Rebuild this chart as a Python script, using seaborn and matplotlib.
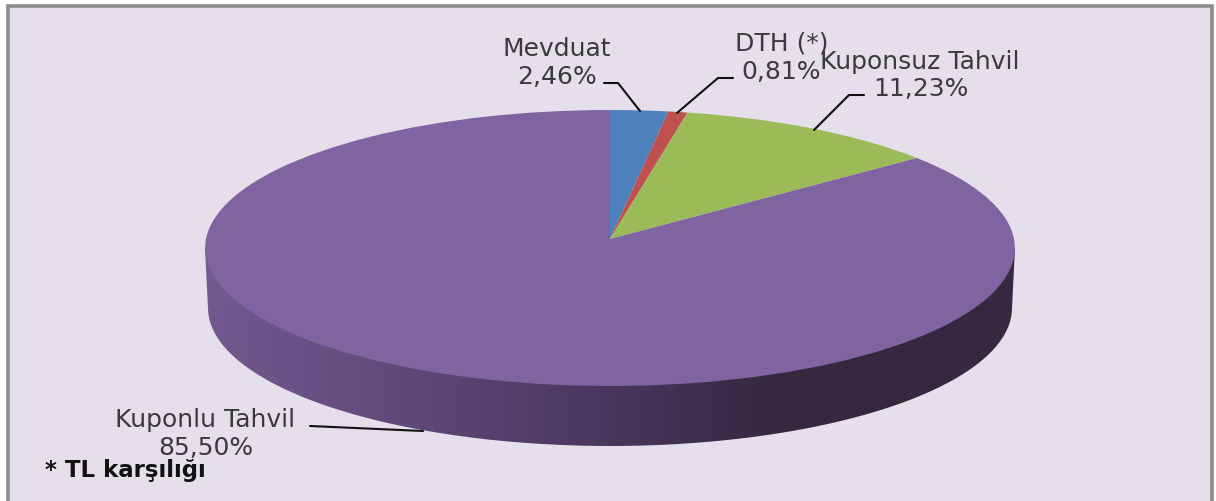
import numpy as np
import matplotlib
matplotlib.use("Agg")
import matplotlib.pyplot as plt
import seaborn as sns
from matplotlib.colors import LinearSegmentedColormap
from matplotlib.patches import PathPatch, Rectangle
from matplotlib.path import Path
from matplotlib.transforms import Transform

# data
labels = ["Mevduat", "DTH (*)", "Kuponsuz Tahvil", "Kuponlu Tahvil"]
shares = [2.46, 0.81, 11.23, 85.50]
slice_colors = ["#4F81BD", "#C0504D", "#9BBB59", "#8064A2"]
footnote = "* TL karşılığı"

# label layout in pixels: name centre, value centre, leader line
name_pos = [(557, 49), (782, 44), (920, 62), (205, 420)]
value_pos = [(557, 77), (781, 72), (921, 89), (206, 448)]
leaders = [
    [(604, 84), (618, 84), (640, 112)],
    [(733, 79), (718, 79), (677, 114)],
    [(864, 96), (849, 96), (814, 131)],
    [(310, 427), (423, 432)],
]

sns.set_theme(style="white")
plt.rcParams["font.family"] = ["DejaVu Sans"]


class TiltedDisc(Transform):
    # unit circle -> tilted pie top, in pixels (near edge looks bigger)
    input_dims = 2
    output_dims = 2
    is_separable = False
    has_inverse = False

    def __init__(self, cx, cy, rx, ry, k):
        super().__init__()
        self.cx, self.cy, self.rx, self.ry, self.k = cx, cy, rx, ry, k

    def transform_non_affine(self, values):
        values = np.asarray(values, dtype=float)
        w = 1 + self.k * values[:, 1]
        return np.column_stack([self.cx + self.rx * values[:, 0] / w,
                                self.cy - self.ry * values[:, 1] / w])


fig = plt.figure(figsize=(12.16, 5.02), dpi=100)
ax = fig.add_axes([0, 0, 1, 1])

wedges, _ = ax.pie(shares, colors=sns.color_palette(slice_colors), startangle=90,
                   counterclock=False, radius=1, wedgeprops={"linewidth": 0})
ax.set_aspect("auto")

top = TiltedDisc(610, 240, 404, 137.4, 0.0652)
for w in wedges:
    w.set_transform(top + ax.transData)
    w.set_zorder(3)
    w.set_clip_on(False)

# panel
ax.add_patch(Rectangle((8, 7), 1204, 500, facecolor="#E5DFEC", edgecolor="none", zorder=0))
ax.plot([8, 8, 1212, 1212], [502, 7, 7, 502], color="#8C8C8C", lw=2.6, zorder=1,
        solid_joinstyle="miter")

# side of the disc, gradient clipped to the outline
t = np.linspace(np.pi, 2 * np.pi, 200)
rim_x = 610 + 402 * np.cos(t)
rim_y = 309 - 138 * np.sin(t)
outline = np.vstack([[205, 249], np.column_stack([rim_x, rim_y]), [1015, 249]])
side_cmap = LinearSegmentedColormap.from_list(
    "side", [(0, "#72598F"), (0.24, "#60497A"), (0.48, "#4A3860"),
             (0.71, "#35283F"), (1, "#35283F")])
im = ax.imshow(np.linspace(0, 1, 400)[None, :], cmap=side_cmap, aspect="auto",
               extent=(205, 1015, 450, 245), zorder=2, interpolation="bilinear")
clip = PathPatch(Path(outline), transform=ax.transData, facecolor="none", edgecolor="none")
ax.add_patch(clip)
im.set_clip_path(clip)

# labels
for name, value, n_xy, v_xy, line in zip(labels, shares, name_pos, value_pos, leaders):
    ax.text(*n_xy, name, ha="center", va="center", fontsize=18, color="#3A3A3A", zorder=6)
    ax.text(*v_xy, f"{value:.2f}".replace(".", ",") + "%", ha="center", va="center",
            fontsize=18, color="#3A3A3A", zorder=6)
    xs, ys = zip(*line)
    ax.plot(xs, ys, color="#111111", lw=1.5, zorder=5)

ax.text(45, 471, footnote, ha="left", va="center", fontsize=16.5, fontweight="bold",
        color="#111111", zorder=6)

ax.set_xlim(0, 1216)
ax.set_ylim(502, 0)
ax.axis("off")

fig.savefig("out.png", dpi=100, facecolor="white")
